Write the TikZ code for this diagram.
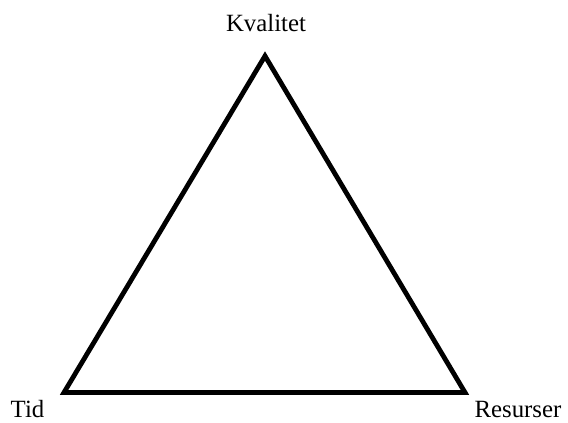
\documentclass[tikz,border=0pt]{standalone}
\usepackage{fontspec}
\setmainfont{Liberation Serif}
\begin{document}
\begin{tikzpicture}[x=0.75pt,y=-0.75pt,
  edge/.style={line width=3.6pt,line join=miter,black},
  lbl/.style={inner sep=0pt,font=\fontsize{18.6}{22}\selectfont}]
\useasboundingbox[fill=white] (0,0) rectangle (568,423);
\coordinate (top) at (265,56);
\coordinate (bl) at (64,392.5);
\coordinate (br) at (465,392.5);
\draw[edge] (top) -- (bl) -- (br) -- cycle;
\node[lbl,anchor=base] (k) at (266,32) {Kvalitet};
\node[lbl,anchor=base] (t) at (27.5,418) {Tid};
\node[lbl,anchor=base,text depth=0pt] (r) at (518,418) {Resurser};
\end{tikzpicture}
\end{document}
